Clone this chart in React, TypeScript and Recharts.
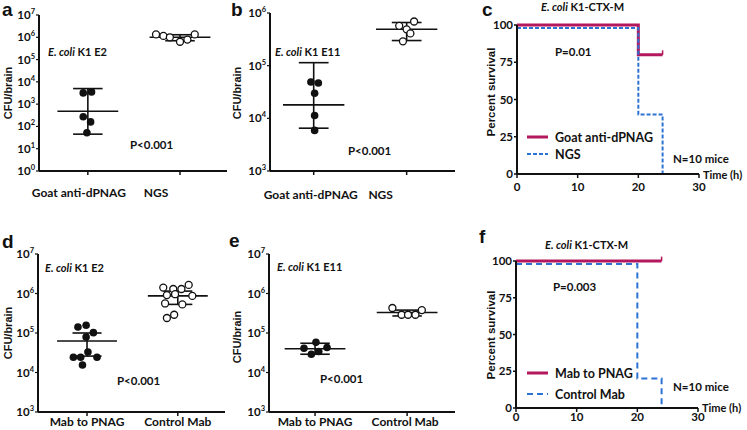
import React from "react";
import {
  ComposedChart,
  Scatter,
  XAxis,
  YAxis,
  ReferenceLine,
  LineChart,
  Line,
  Legend,
} from "recharts";

const FONT = "Lato, 'Open Sans', sans-serif";
const ARIAL = "'Liberation Sans', Arial, sans-serif";
const INK = "#111";
const MAGENTA = "#b3175d";
const BLUE = "#2d73d4";

// ---- panel a : E. coli K1 E2, goat serum ----
const aCats = ["Goat anti-dPNAG", "NGS"];
const aExps = [0, 1, 2, 3, 4, 5, 6, 7];
const aImmuneX = [0.95, 1.04, 0.95, 1.03, 0.99];
const aImmuneY = [3200, 3550, 270, 160, 52];
const aControlX = [1.74, 1.82, 1.89, 2.0, 2.08, 2.16];
const aControlY = [1.35e6, 1.15e6, 1.0e6, 6.3e5, 7.9e5, 1.35e6];
const aMean = [480, 1.0e6];
const aLow = [45, 7.0e5];
const aHigh = [5000, 1.3e6];

// ---- panel b : E. coli K1 E11, goat serum ----
const bCats = ["Goat anti-dPNAG", "NGS"];
const bExps = [3, 4, 5, 6];
const bImmuneX = [0.97, 1.05, 1.01, 1.01, 1.01];
const bImmuneY = [4.9e4, 4.7e4, 3.0e4, 1.13e4, 5.9e3];
const bControlX = [2.08, 1.92, 2.0, 2.04, 1.96];
const bControlY = [6.9e5, 5.7e5, 4.9e5, 4.1e5, 2.9e5];
const bMean = [1.8e4, 4.9e5];
const bLow = [6.5e3, 3.0e5];
const bHigh = [1.14e5, 6.6e5];

// ---- panel d : E. coli K1 E2, mab ----
const dCats = ["Mab to PNAG", "Control Mab"];
const dExps = [3, 4, 5, 6, 7];
const dImmuneX = [0.9, 0.99, 0.99, 1.07, 0.85, 0.93, 1.01, 1.11, 0.95];
const dImmuneY = [1.42e5, 1.57e5, 7.9e4, 1.02e5, 2.44e4, 2.44e4, 3.3e4, 2.44e4, 1.55e4];
const dControlX = [1.84, 1.95, 2.04, 2.12, 1.88, 1.97, 2.16, 1.86, 2.05, 1.88, 1.96];
const dControlY = [1.41e6, 1.3e6, 1.3e6, 1.65e6, 9.1e5, 9.6e5, 8.7e5, 5.6e5, 5.3e5, 2.4e5, 2.9e5];
const dMean = [6.3e4, 8.7e5];
const dLow = [2.6e4, 5.3e5];
const dHigh = [1.0e5, 1.15e6];

// ---- panel e : E. coli K1 E11, mab ----
const eCats = ["Mab to PNAG", "Control Mab"];
const eExps = [3, 4, 5, 6, 7];
const eImmuneX = [0.88, 0.96, 1.01, 1.04, 1.13];
const eImmuneY = [4.1e4, 2.9e4, 5.8e4, 3.4e4, 4.3e4];
const eControlX = [1.84, 1.94, 2.01, 2.09, 2.16];
const eControlY = [4.3e5, 2.9e5, 2.9e5, 2.9e5, 3.8e5];
const eMean = [4.0e4, 3.3e5];
const eLow = [2.9e4, 2.7e5];
const eHigh = [5.5e4, 3.8e5];

// ---- survival panels c and f ----
const survXTicks = [0, 10, 20, 30];
const survYTicks = [0, 25, 50, 75, 100];
const cTreatedName = "Goat anti-dPNAG";
const cTreatedT = [0, 20, 24];
const cTreatedV = [100, 80, 80];
const cControlName = "NGS";
const cControlT = [0, 20, 24];
const cControlV = [98, 40, 0];
const fTreatedName = "Mab to PNAG";
const fTreatedT = [0, 24];
const fTreatedV = [100, 100];
const fControlName = "Control Mab";
const fControlT = [0, 20, 24];
const fControlV = [98, 20, 0];

const pts = (xs: number[], ys: number[]) => xs.map((x, i) => ({ x, y: ys[i] }));
const steps = (ts: number[], vs: number[]) => ts.map((t, i) => ({ t, v: vs[i] }));

function YPowTick(props: any) {
  const { x, y, payload } = props;
  const n = Math.round(Math.log10(payload.value));
  return (
    <text x={x} y={y + 4} textAnchor="end" fontFamily={FONT} fontWeight={700} fontSize={11.5} fill={INK}>
      10
      <tspan dy={-5} fontSize={7.5}>
        {n}
      </tspan>
    </text>
  );
}

const makeXTick = (labels: string[], dxs: number[], dy: number) => (props: any) => {
  const { x, y, payload } = props;
  const i = Math.round(payload.value) - 1;
  return (
    <text x={x + dxs[i]} y={y + dy} textAnchor="middle" fontFamily={FONT} fontWeight={700} fontSize={12} fill={INK}>
      {labels[i]}
    </text>
  );
};

const filledDot = (p: any) => <circle cx={p.cx} cy={p.cy} r={3.8} fill={INK} />;
const openDot = (p: any) => <circle cx={p.cx} cy={p.cy} r={3.5} fill="#fff" stroke={INK} strokeWidth={1.3} />;

type ScatterProps = {
  left: number;
  top: number;
  width: number;
  height: number;
  margin: { top: number; right: number; bottom: number; left: number };
  yWidth: number;
  xHeight: number;
  domainX: [number, number];
  exps: number[];
  cats: string[];
  labelDx: number[];
  labelDy: number;
  immuneX: number[];
  immuneY: number[];
  controlX: number[];
  controlY: number[];
  mean: number[];
  low: number[];
  high: number[];
};

function ScatterPanel(p: ScatterProps) {
  const ticks = p.exps.map((e) => Math.pow(10, e));
  const lineStyle = { stroke: INK, strokeWidth: 1.6 };
  return (
    <div style={{ position: "absolute", left: p.left, top: p.top }}>
      <ComposedChart width={p.width} height={p.height} margin={p.margin}>
        <XAxis
          type="number"
          dataKey="x"
          domain={p.domainX}
          ticks={[1, 2]}
          interval={0}
          tick={makeXTick(p.cats, p.labelDx, p.labelDy)}
          tickSize={4}
          height={p.xHeight}
          axisLine={{ stroke: INK, strokeWidth: 2 }}
          tickLine={{ stroke: INK, strokeWidth: 1.5 }}
          allowDataOverflow
        />
        <YAxis
          type="number"
          dataKey="y"
          scale="log"
          domain={[ticks[0], ticks[ticks.length - 1]]}
          ticks={ticks}
          interval={0}
          tick={<YPowTick />}
          tickSize={3}
          tickMargin={1}
          width={p.yWidth}
          axisLine={{ stroke: INK, strokeWidth: 2 }}
          tickLine={{ stroke: INK, strokeWidth: 1.2 }}
          allowDataOverflow
        />
        {[1, 2].map((c, i) => (
          <ReferenceLine
            key={`m${i}`}
            segment={[
              { x: c - 0.33, y: p.mean[i] },
              { x: c + 0.33, y: p.mean[i] },
            ]}
            {...lineStyle}
          />
        ))}
        {[1, 2].map((c, i) => (
          <ReferenceLine
            key={`v${i}`}
            segment={[
              { x: c, y: p.low[i] },
              { x: c, y: p.high[i] },
            ]}
            {...lineStyle}
          />
        ))}
        {[1, 2].map((c, i) => (
          <ReferenceLine
            key={`l${i}`}
            segment={[
              { x: c - 0.16, y: p.low[i] },
              { x: c + 0.16, y: p.low[i] },
            ]}
            {...lineStyle}
          />
        ))}
        {[1, 2].map((c, i) => (
          <ReferenceLine
            key={`h${i}`}
            segment={[
              { x: c - 0.16, y: p.high[i] },
              { x: c + 0.16, y: p.high[i] },
            ]}
            {...lineStyle}
          />
        ))}
        <Scatter data={pts(p.immuneX, p.immuneY)} shape={filledDot} isAnimationActive={false} />
        <Scatter data={pts(p.controlX, p.controlY)} shape={openDot} isAnimationActive={false} />
      </ComposedChart>
    </div>
  );
}

const legendContent = (order: string[], rowGap: number, dash: string) => (props: any) => {
  const items = [...(props.payload || [])].sort(
    (a: any, b: any) => order.indexOf(a.value) - order.indexOf(b.value)
  );
  return (
    <svg width={140} height={rowGap * items.length + 4} style={{ display: "block" }}>
      {items.map((it: any, i: number) => {
        const dashed = it.value === order[1];
        return (
          <g key={it.value} transform={`translate(0, ${i * rowGap + 8})`}>
            <line
              x1={0}
              x2={21}
              y1={0}
              y2={0}
              stroke={it.color}
              strokeWidth={dashed ? 2 : 3}
              strokeDasharray={dashed ? dash : undefined}
            />
            <text x={28} y={4.5} fontFamily={FONT} fontWeight={700} fontSize={12.5} fill={INK}>
              {it.value}
            </text>
          </g>
        );
      })}
    </svg>
  );
};

type SurvProps = {
  left: number;
  top: number;
  margin: { top: number; right: number; bottom: number; left: number };
  yWidth: number;
  xHeight: number;
  xTickMargin: number;
  treatedName: string;
  treatedT: number[];
  treatedV: number[];
  controlName: string;
  controlT: number[];
  controlV: number[];
  dash: string;
  legendLeft: number;
  legendTop: number;
  legendGap: number;
};

function SurvivalPanel(p: SurvProps) {
  const tickStyle = { fill: INK, fontSize: 11.5, fontWeight: 700, fontFamily: FONT };
  const lastT = p.treatedT[p.treatedT.length - 1];
  const lastV = p.treatedV[p.treatedV.length - 1];
  return (
    <div style={{ position: "absolute", left: p.left, top: p.top }}>
      <LineChart width={277} height={215} margin={p.margin}>
        <XAxis
          type="number"
          dataKey="t"
          domain={[0, 30]}
          ticks={survXTicks}
          interval={0}
          tick={tickStyle}
          tickSize={4}
          tickMargin={p.xTickMargin}
          height={p.xHeight}
          axisLine={{ stroke: INK, strokeWidth: 2 }}
          tickLine={{ stroke: INK, strokeWidth: 1.5 }}
        />
        <YAxis
          type="number"
          domain={[0, 100]}
          ticks={survYTicks}
          interval={0}
          tick={tickStyle}
          tickSize={3}
          tickMargin={1}
          width={p.yWidth}
          axisLine={{ stroke: INK, strokeWidth: 2 }}
          tickLine={{ stroke: INK, strokeWidth: 1.5 }}
        />
        <Line
          data={steps(p.treatedT, p.treatedV)}
          dataKey="v"
          name={p.treatedName}
          type="stepAfter"
          stroke={MAGENTA}
          strokeWidth={3}
          dot={false}
          isAnimationActive={false}
        />
        <Line
          data={steps(p.controlT, p.controlV)}
          dataKey="v"
          name={p.controlName}
          type="stepAfter"
          stroke={BLUE}
          strokeWidth={2}
          strokeDasharray={p.dash}
          dot={false}
          isAnimationActive={false}
        />
        <ReferenceLine
          segment={[
            { x: lastT, y: lastV },
            { x: lastT, y: lastV + 3 },
          ]}
          stroke={MAGENTA}
          strokeWidth={1.5}
          ifOverflow="visible"
        />
        <Legend
          layout="vertical"
          align="center"
          verticalAlign="middle"
          content={legendContent([p.treatedName, p.controlName], p.legendGap, p.dash)}
          wrapperStyle={{ left: p.legendLeft, top: p.legendTop, width: 140 }}
        />
      </LineChart>
    </div>
  );
}

function Ecoli({ x, y, strain }: { x: number; y: number; strain: string }) {
  return (
    <text x={x} y={y} fontFamily={FONT} fontWeight={700} fontSize={11} fill={INK}>
      <tspan fontStyle="italic">E. coli</tspan> {strain}
    </text>
  );
}

function Txt({ x, y, children, size = 11.5, anchor = "start" }: any) {
  return (
    <text x={x} y={y} textAnchor={anchor} fontFamily={FONT} fontWeight={700} fontSize={size} fill={INK}>
      {children}
    </text>
  );
}

function Letter({ x, y, t }: { x: number; y: number; t: string }) {
  return (
    <text x={x} y={y} fontFamily={ARIAL} fontWeight={700} fontSize={19} fill={INK}>
      {t}
    </text>
  );
}

function VLabel({ x, y, t, size }: { x: number; y: number; t: string; size: number }) {
  return (
    <text
      x={x}
      y={y}
      transform={`rotate(-90 ${x} ${y})`}
      textAnchor="middle"
      fontFamily={ARIAL}
      fontWeight={700}
      fontSize={size}
      fill={INK}
    >
      {t}
    </text>
  );
}

export default function App() {
  return (
    <div style={{ position: "absolute", left: 0, top: 0, width: 747, height: 430, background: "#fff", overflow: "hidden" }}>
      <ScatterPanel
        left={0}
        top={0}
        width={240}
        height={215}
        margin={{ top: 15, right: 13, bottom: 0, left: 0 }}
        yWidth={39}
        xHeight={44}
        domainX={[0.47, 2.51]}
        exps={aExps}
        cats={aCats}
        labelDx={[-9, -24]}
        labelDy={20}
        immuneX={aImmuneX}
        immuneY={aImmuneY}
        controlX={aControlX}
        controlY={aControlY}
        mean={aMean}
        low={aLow}
        high={aHigh}
      />
      <ScatterPanel
        left={231}
        top={0}
        width={240}
        height={215}
        margin={{ top: 13, right: 16, bottom: 0, left: 0 }}
        yWidth={39}
        xHeight={44}
        domainX={[0.53, 2.52]}
        exps={bExps}
        cats={bCats}
        labelDx={[-3, -26]}
        labelDy={22}
        immuneX={bImmuneX}
        immuneY={bImmuneY}
        controlX={bControlX}
        controlY={bControlY}
        mean={bMean}
        low={bLow}
        high={bHigh}
      />
      <ScatterPanel
        left={0}
        top={215}
        width={240}
        height={215}
        margin={{ top: 39, right: 15, bottom: 0, left: 0 }}
        yWidth={38}
        xHeight={18}
        domainX={[0.46, 2.52]}
        exps={dExps}
        cats={dCats}
        labelDx={[0, 0]}
        labelDy={8}
        immuneX={dImmuneX}
        immuneY={dImmuneY}
        controlX={dControlX}
        controlY={dControlY}
        mean={dMean}
        low={dLow}
        high={dHigh}
      />
      <ScatterPanel
        left={231}
        top={215}
        width={240}
        height={215}
        margin={{ top: 39, right: 16, bottom: 0, left: 0 }}
        yWidth={38}
        xHeight={18}
        domainX={[0.5, 2.52]}
        exps={eExps}
        cats={eCats}
        labelDx={[0, -2]}
        labelDy={8}
        immuneX={eImmuneX}
        immuneY={eImmuneY}
        controlX={eControlX}
        controlY={eControlY}
        mean={eMean}
        low={eLow}
        high={eHigh}
      />
      <SurvivalPanel
        left={470}
        top={0}
        margin={{ top: 25, right: 48, bottom: 0, left: 0 }}
        yWidth={47}
        xHeight={41}
        xTickMargin={5}
        treatedName={cTreatedName}
        treatedT={cTreatedT}
        treatedV={cTreatedV}
        controlName={cControlName}
        controlT={cControlT}
        controlV={cControlV}
        dash="4 2"
        legendLeft={57}
        legendTop={129}
        legendGap={17}
      />
      <SurvivalPanel
        left={470}
        top={215}
        margin={{ top: 46, right: 49, bottom: 0, left: 0 }}
        yWidth={46}
        xHeight={22}
        xTickMargin={1}
        treatedName={fTreatedName}
        treatedT={fTreatedT}
        treatedV={fTreatedV}
        controlName={fControlName}
        controlT={fControlT}
        controlV={fControlV}
        dash="6 4"
        legendLeft={57}
        legendTop={150}
        legendGap={21}
      />
      <svg width={747} height={430} style={{ position: "absolute", left: 0, top: 0, pointerEvents: "none" }}>
        <Letter x={2} y={16} t="a" />
        <Letter x={231} y={16} t="b" />
        <Letter x={482} y={16} t="c" />
        <Letter x={2} y={248} t="d" />
        <Letter x={229} y={247} t="e" />
        <Letter x={479} y={243} t="f" />
        <VLabel x={12} y={93} t="CFU/brain" size={11} />
        <VLabel x={241} y={93} t="CFU/brain" size={11} />
        <VLabel x={12} y={333} t="CFU/brain" size={11} />
        <VLabel x={241} y={337} t="CFU/brain" size={11} />
        <VLabel x={495} y={92} t="Percent survival" size={11.5} />
        <VLabel x={495} y={335} t="Percent survival" size={11.5} />
        <Ecoli x={48} y={56} strain="K1 E2" />
        <Ecoli x={275} y={56} strain="K1 E11" />
        <Ecoli x={45} y={272} strain="K1 E2" />
        <Ecoli x={277} y={271} strain="K1 E11" />
        <Ecoli x={541} y={11} strain="K1-CTX-M" />
        <Ecoli x={545} y={249} strain="K1-CTX-M" />
        <Txt x={130} y={149}>P&lt;0.001</Txt>
        <Txt x={348} y={155}>P&lt;0.001</Txt>
        <Txt x={117} y={385}>P&lt;0.001</Txt>
        <Txt x={320} y={383}>P&lt;0.001</Txt>
        <Txt x={555} y={56}>P=0.01</Txt>
        <Txt x={553} y={291}>P=0.003</Txt>
        <Txt x={673} y={163}>N=10 mice</Txt>
        <Txt x={673} y={391}>N=10 mice</Txt>
        <Txt x={703} y={179} size={11}>Time (h)</Txt>
        <Txt x={702} y={412} size={11}>Time (h)</Txt>
      </svg>
    </div>
  );
}
